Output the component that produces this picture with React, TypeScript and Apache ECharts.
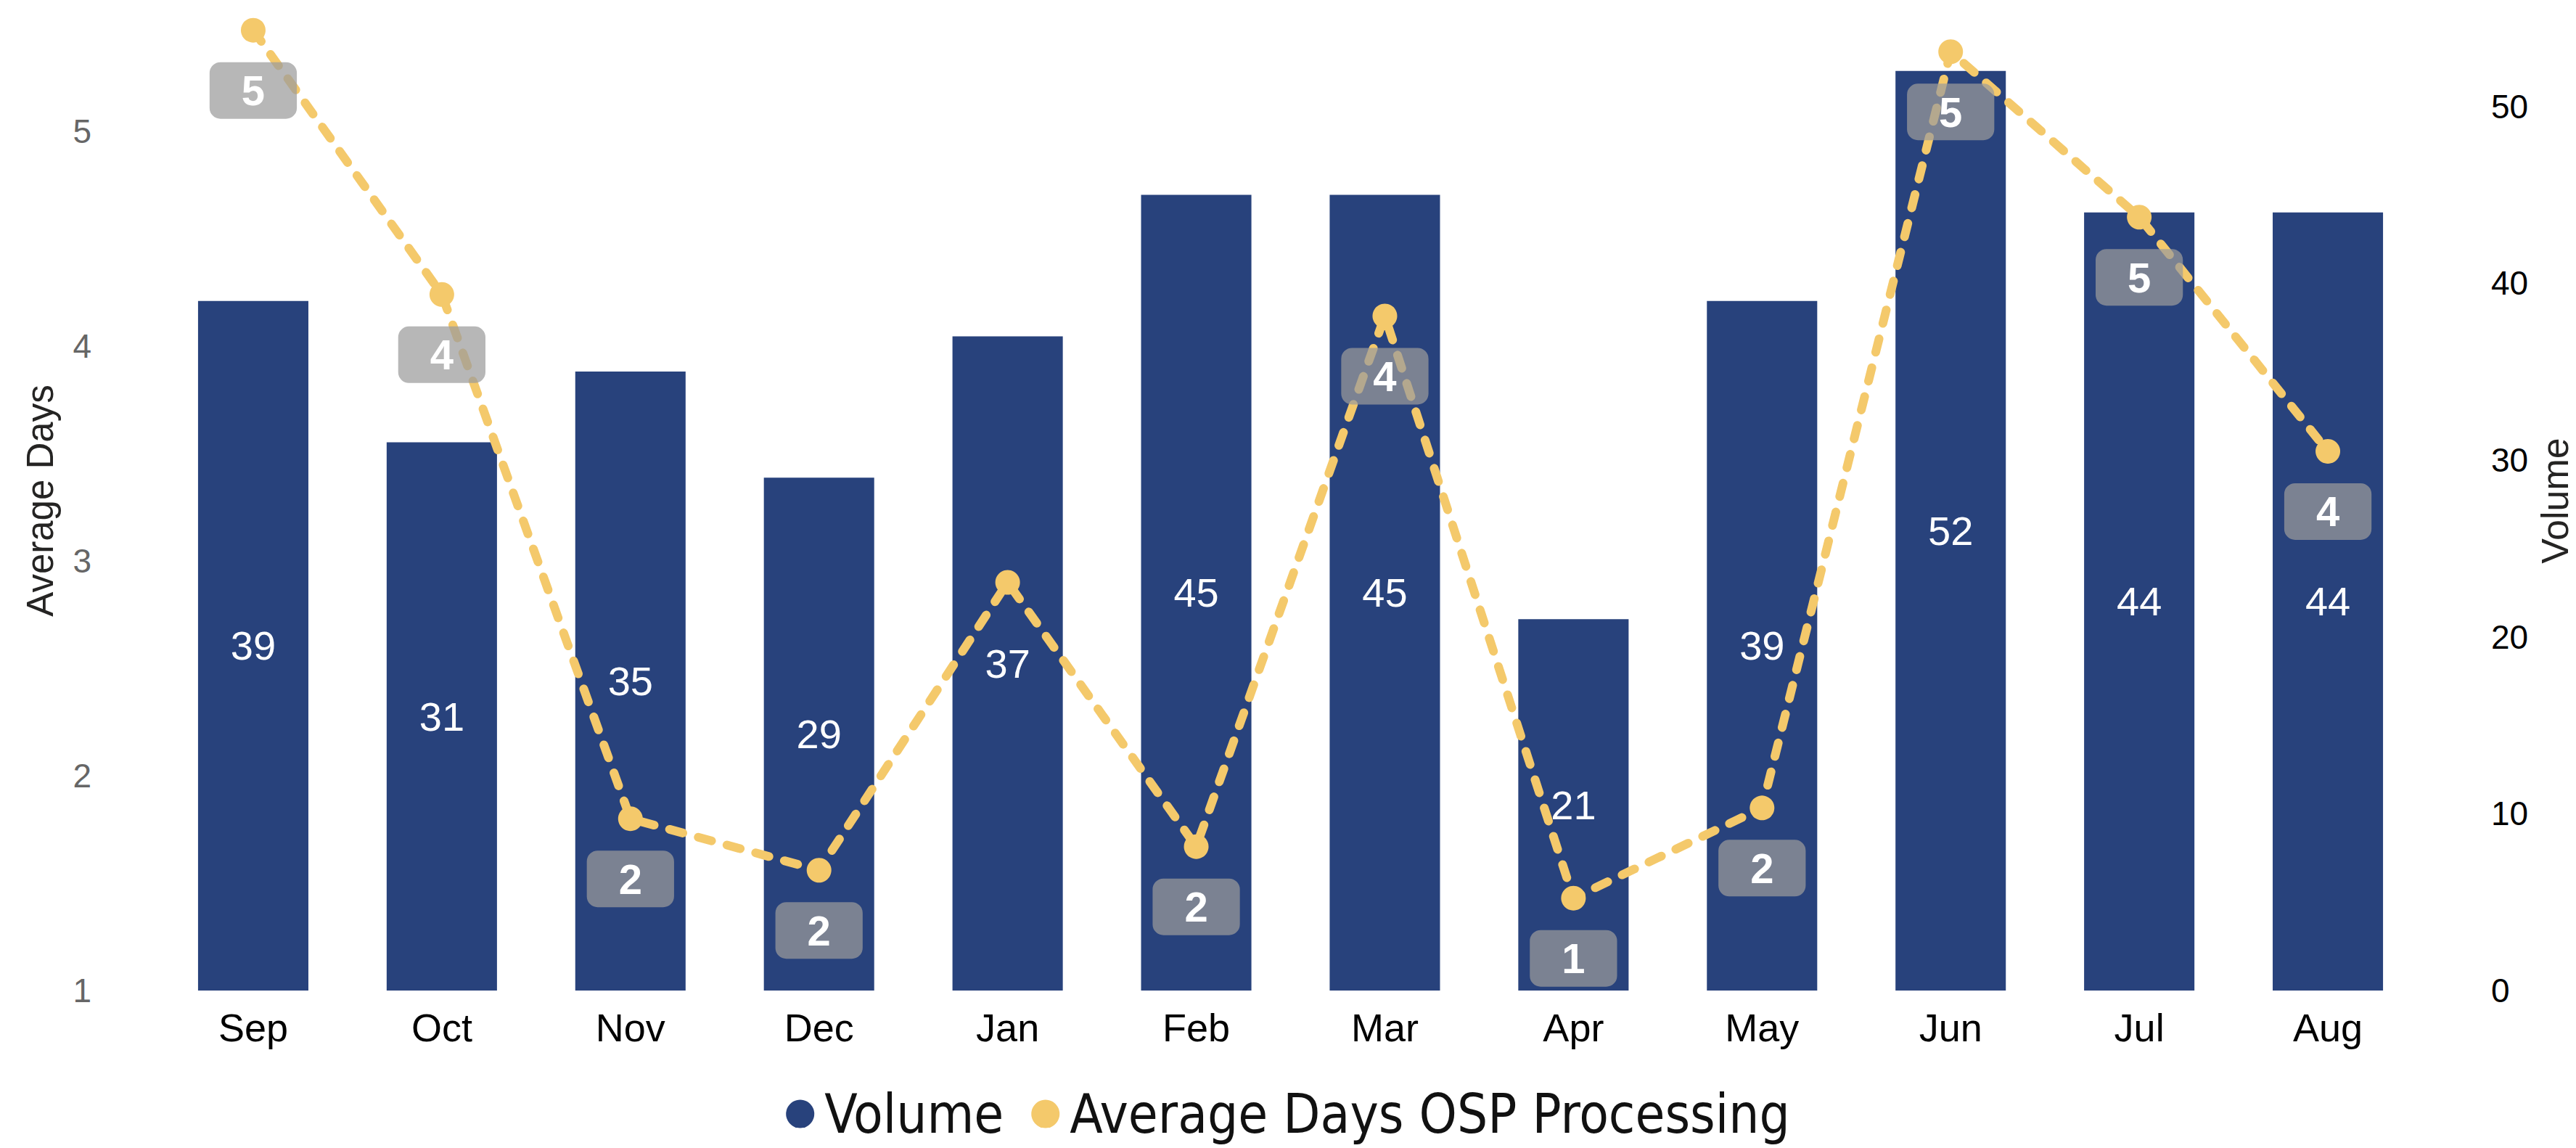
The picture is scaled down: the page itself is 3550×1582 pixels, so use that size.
import React, { useEffect, useRef } from "react";
import * as echarts from "echarts";

const months = ["Sep", "Oct", "Nov", "Dec", "Jan", "Feb", "Mar", "Apr", "May", "Jun", "Jul", "Aug"];
const volume = [39, 31, 35, 29, 37, 45, 45, 21, 39, 52, 44, 44];
const avgDays = [5.47, 4.24, 1.8, 1.56, 2.9, 1.67, 4.14, 1.43, 1.85, 5.37, 4.6, 3.51];
const hiddenDayLabels = ["Jan"];
const leftTicks = { min: 1, max: 5.56, interval: 1 };
const rightTicks = { min: 0, max: 55.4, interval: 10 };

const NAVY = "#28427C";
const GOLD = "#F4C96B";
const FONT = "'Liberation Sans', Arial, sans-serif";

export default function App() {
  const ref = useRef<HTMLDivElement>(null);
  useEffect(() => {
    if (!ref.current) return;
    const chart = echarts.init(ref.current, null, { renderer: "svg" });
    chart.setOption({
      animation: false,
      backgroundColor: "#ffffff",
      grid: { left: 219, right: 212, top: 15, bottom: 217, outerBoundsMode: "none" },
      legend: {
        bottom: 5,
        left: "center",
        icon: "circle",
        itemWidth: 39,
        itemHeight: 39,
        itemGap: 38,
        textStyle: {
          fontFamily: "'DejaVu Sans Condensed', 'DejaVu Sans', sans-serif",
          fontSize: 74,
          color: "#111",
          padding: [0, 0, 0, 9],
        },
        data: [
          { name: "Volume", itemStyle: { color: NAVY } },
          { name: "Average Days OSP Processing", itemStyle: { color: GOLD } },
        ],
      },
      xAxis: {
        type: "category",
        data: months,
        axisLine: { show: false },
        axisTick: { show: false },
        axisLabel: { color: "#000", fontSize: 54, fontFamily: FONT, margin: 24 },
      },
      yAxis: [
        {
          type: "value",
          position: "left",
          min: leftTicks.min,
          max: leftTicks.max,
          interval: leftTicks.interval,
          name: "Average Days",
          nameLocation: "middle",
          nameGap: 138,
          nameTextStyle: { fontSize: 51, fontFamily: FONT, color: "#252423" },
          splitLine: { show: false },
          axisLine: { show: false },
          axisTick: { show: false },
          axisLabel: { color: "#666", fontSize: 46, fontFamily: FONT, margin: 93, showMaxLabel: false },
        },
        {
          type: "value",
          position: "right",
          min: rightTicks.min,
          max: rightTicks.max,
          interval: rightTicks.interval,
          name: "Volume",
          nameLocation: "middle",
          nameGap: 156,
          nameTextStyle: { fontSize: 52, lineHeight: 44, fontFamily: FONT, color: "#252423" },
          splitLine: { show: false },
          axisLine: { show: false },
          axisTick: { show: false },
          axisLabel: { color: "#000", fontSize: 46, fontFamily: FONT, margin: 95, showMaxLabel: false },
        },
      ],
      series: [
        {
          name: "Volume",
          type: "bar",
          yAxisIndex: 1,
          data: volume,
          barCategoryGap: "41.5%",
          itemStyle: { color: NAVY },
          label: {
            show: true,
            position: "inside",
            color: "#fff",
            fontSize: 56,
            fontFamily: FONT,
          },
          z: 1,
        },
        {
          name: "Average Days OSP Processing",
          type: "line",
          yAxisIndex: 0,
          data: avgDays.map((v, i) =>
            hiddenDayLabels.includes(months[i]) ? { value: v, label: { show: false } } : v
          ),
          symbol: "circle",
          symbolSize: 34,
          itemStyle: { color: GOLD },
          lineStyle: { color: GOLD, width: 12, type: [19, 22], cap: "round" },
          label: {
            show: true,
            position: "bottom",
            distance: 27,
            formatter: (p: any) => String(Math.round(p.value)),
            color: "#fff",
            fontSize: 58,
            fontWeight: "bold",
            fontFamily: FONT,
            backgroundColor: "rgba(155,155,155,0.72)",
            borderRadius: 15,
            padding: [9, 44, 9, 44],
            lineHeight: 60,
          },
          z: 3,
        },
      ],
    });
    return () => chart.dispose();
  }, []);
  return (
    <div
      ref={ref}
      style={{ position: "absolute", left: 0, top: 0, width: 3550, height: 1582 }}
    />
  );
}
